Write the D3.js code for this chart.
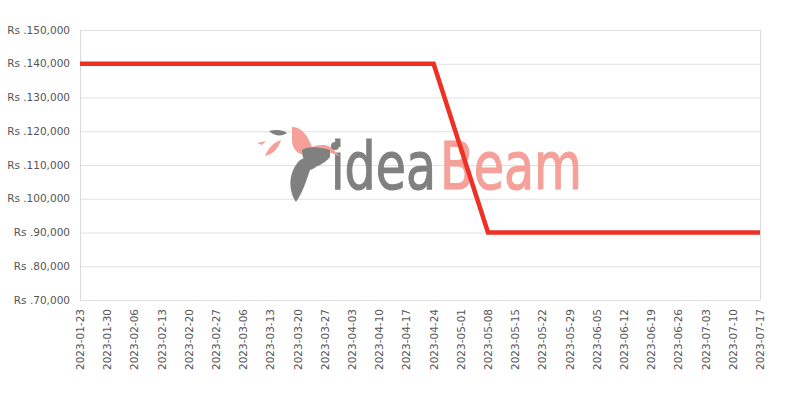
<!DOCTYPE html>
<html><head><meta charset="utf-8">
<script src="https://cdn.jsdelivr.net/npm/d3@7"></script>
<style>body{margin:0;background:#fff}svg{display:block}</style>
</head><body>
<svg id="c" width="800" height="400"></svg>
<script>
const tickDates = ["2023-01-23","2023-01-30","2023-02-06","2023-02-13","2023-02-20","2023-02-27","2023-03-06","2023-03-13","2023-03-20","2023-03-27","2023-04-03","2023-04-10","2023-04-17","2023-04-24","2023-05-01","2023-05-08","2023-05-15","2023-05-22","2023-05-29","2023-06-05","2023-06-12","2023-06-19","2023-06-26","2023-07-03","2023-07-10","2023-07-17"];
const priceDates = ["2023-01-23","2023-04-24","2023-05-08","2023-07-17"];
const prices = [140000,140000,90000,90000];
const yTicks = [70000,80000,90000,100000,110000,120000,130000,140000,150000];

const svg = d3.select("#c");
const m = {l:80, r:40, t:30, b:100};
const W = 800, H = 400;
const parse = d3.utcParse("%Y-%m-%d");
const x = d3.scaleUtc().domain([parse(tickDates[0]), parse(tickDates[tickDates.length-1])]).range([m.l, W-m.r]);
const y = d3.scaleLinear().domain([70000,150000]).range([H-m.b, m.t]);

// grid
svg.append("g").selectAll("line").data(yTicks).join("line")
  .attr("x1", m.l).attr("x2", W-m.r).attr("y1", d=>y(d)+0.5).attr("y2", d=>y(d)+0.5)
  .attr("stroke", "#e0e0e0").attr("stroke-width",1);
svg.append("line").attr("x1", m.l+0.5).attr("x2", m.l+0.5).attr("y1", m.t).attr("y2", H-m.b).attr("stroke","#d9d9d9");
svg.append("line").attr("x1", W-m.r+0.5).attr("x2", W-m.r+0.5).attr("y1", m.t).attr("y2", H-m.b).attr("stroke","#d9d9d9");

// watermark logo
const logo = svg.append("g");
const lf = "'DejaVu Sans Condensed','DejaVu Sans',sans-serif";
function word(txt, x0, width, col) {
  const t = logo.append("text").attr("x", 0).attr("y", 0).attr("font-family", lf)
    .attr("font-size", 66).attr("fill", col).attr("stroke", col).attr("stroke-width", 1.2).text(txt);
  const w = t.node().getBBox().width;
  t.attr("transform", `translate(${x0},189) scale(${width / w},1)`);
}
word("idea", 331, 105, "#808080");
word("Beam", 440, 142, "#f5a098");
// bird (salmon)
logo.append("path").attr("d","M292,127 C300,126 308,135 312,147 C318,145 328,143 334,150 L340,157 C332,152 322,150 312,154 C300,158 292,150 292,140 Z").attr("fill","#f5a098");
logo.append("path").attr("d","M257,143 L266,141 L262,145 Z").attr("fill","#f5a098");
logo.append("path").attr("d","M265,156 C268,148 274,142 281,140 C278,149 273,154 265,156 Z").attr("fill","#f5a098");
// gray parts
logo.append("path").attr("d","M269,131 C276,129 284,130 287,133 C282,137 274,136 269,131 Z").attr("fill","#808080");
logo.append("path").attr("d","M296,202 C288,190 288,172 300,160 C308,156 318,152 322,150 C322,160 318,168 310,170 C306,182 302,194 296,202 Z").attr("fill","#808080");
logo.append("path").attr("d","M302,150 C308,146 320,147 330,150 L330,157 C324,164 316,168 308,168 C304,162 302,156 302,150 Z").attr("fill","#808080");
logo.append("circle").attr("cx",335).attr("cy",146).attr("r",4).attr("fill","#808080");

// y labels
svg.append("g").selectAll("text").data(yTicks).join("text")
  .attr("x", 70).attr("y", d=>y(d)).attr("dy","0.35em").attr("text-anchor","end")
  .attr("font-family","'DejaVu Sans',sans-serif").attr("font-size",10.5).attr("fill","#555")
  .text(d=>"Rs ." + d3.format(",")(d));

// x labels
svg.append("g").selectAll("text").data(tickDates).join("text")
  .attr("transform", d=>`translate(${x(parse(d))+4},${H-m.b+9}) rotate(-90)`)
  .attr("text-anchor","end")
  .attr("font-family","'DejaVu Sans',sans-serif").attr("font-size",10.5).attr("fill","#555")
  .text(d=>d);

// line
const data = priceDates.map((d,i)=>({d:parse(d), v:prices[i]}));
svg.append("path").datum(data)
  .attr("d", d3.line().x(d=>x(d.d)).y(d=>y(d.v)))
  .attr("fill","none").attr("stroke","#ee3124").attr("stroke-width",4.5);
</script>
</body></html>
